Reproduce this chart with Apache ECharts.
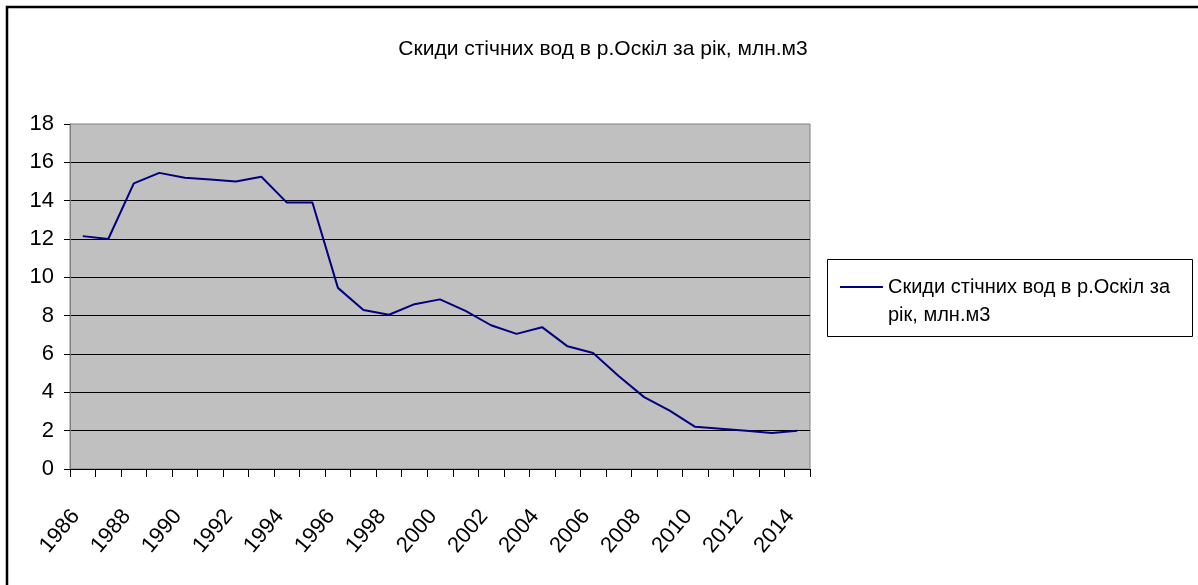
<!DOCTYPE html>
<html>
<head>
<meta charset="utf-8">
<script src="https://cdn.jsdelivr.net/npm/echarts@6/dist/echarts.min.js"></script>
<style>
html,body{margin:0;padding:0;background:#fff;}
#chart{width:1198px;height:585px;}
</style>
</head>
<body>
<div id="chart"></div>
<script>
const titleText = 'Скиди стічних вод в р.Оскіл за рік, млн.м3';
const seriesName = 'Скиди стічних вод в р.Оскіл за рік, млн.м3';
const legendLines = ['Скиди стічних вод в р.Оскіл за', 'рік, млн.м3'];
const years = ['1986','1987','1988','1989','1990','1991','1992','1993','1994','1995',
  '1996','1997','1998','1999','2000','2001','2002','2003','2004','2005',
  '2006','2007','2008','2009','2010','2011','2012','2013','2014'];
const values = [12.15, 12.0, 14.9, 15.45, 15.2, 15.1, 15.0, 15.25, 13.9, 13.9,
  9.45, 8.3, 8.05, 8.6, 8.85, 8.25, 7.5, 7.05, 7.4, 6.4,
  6.05, 4.85, 3.75, 3.05, 2.2, 2.1, 2.0, 1.88, 2.0];
const yTicks = [0, 2, 4, 6, 8, 10, 12, 14, 16, 18];

const FONT = '"Liberation Sans", Arial, sans-serif';

const chart = echarts.init(document.getElementById('chart'), null, {renderer: 'canvas'});
chart.setOption({
  animation: false,
  backgroundColor: '#fff',
  title: {
    text: titleText,
    left: 598, textAlign: 'center',
    top: 34,
    textStyle: {fontFamily: FONT, fontSize: 21, fontWeight: 'normal', color: '#000'}
  },
  legend: {
    left: 835, top: 240,
    icon: 'rect', itemWidth: 43, itemHeight: 2,
    formatter: function () { return ' \n' + legendLines.join('\n'); },
    textStyle: {fontFamily: FONT, fontSize: 20, color: '#000', lineHeight: 28},
    data: [seriesName]
  },
  graphic: [
    {type: 'rect', shape: {x: 7, y: 7, width: 1400, height: 800}, style: {fill: 'none', stroke: '#000', lineWidth: 2.5}, silent: true},
    {type: 'rect', shape: {x: 827.5, y: 259.5, width: 365, height: 77}, style: {fill: 'none', stroke: '#000', lineWidth: 1}, silent: true, z: -1}
  ],
  grid: {
    left: 70, top: 124, width: 740, height: 345,
    show: true, backgroundColor: '#C0C0C0', borderColor: '#808080', borderWidth: 1
  },
  xAxis: {
    type: 'category', data: years, boundaryGap: true,
    axisLine: {show: true, lineStyle: {color: '#000', width: 1}},
    axisTick: {show: true, interval: 0, alignWithLabel: false, length: 8, lineStyle: {color: '#000'}},
    axisLabel: {interval: 1, rotate: 50, margin: 35, padding: [0, 11, 0, 0], fontFamily: FONT, fontSize: 22, color: '#000'},
    splitLine: {show: false}
  },
  yAxis: {
    type: 'value', min: yTicks[0], max: yTicks[yTicks.length - 1], interval: 2,
    axisLine: {show: true, lineStyle: {color: '#808080', width: 1}},
    axisTick: {show: true, inside: false, length: 6, lineStyle: {color: '#000'}},
    axisLabel: {margin: 16, fontFamily: FONT, fontSize: 22, color: '#000'},
    splitLine: {show: true, showMinLine: false, showMaxLine: false, lineStyle: {color: '#000', width: 1}}
  },
  series: [{
    name: seriesName, type: 'line', data: values,
    showSymbol: false, symbol: 'none',
    lineStyle: {color: '#000080', width: 2},
    itemStyle: {color: '#000080'}
  }]
});
</script>
</body>
</html>
